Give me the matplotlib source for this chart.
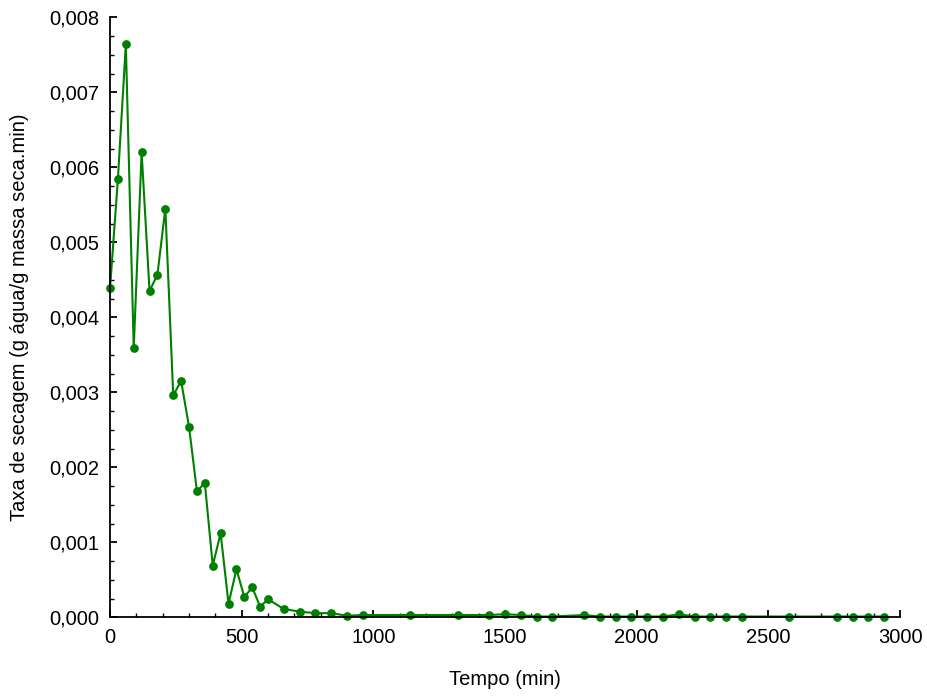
import matplotlib
matplotlib.use("Agg")
import matplotlib.pyplot as plt
from matplotlib.ticker import MultipleLocator, FuncFormatter

# tempo (min) e taxa de secagem (g agua / g massa seca.min)
tempo = [0, 30, 60, 90, 120, 150, 180, 210, 240, 270, 300, 330, 360, 390, 420,
         450, 480, 510, 540, 570, 600, 660, 720, 780, 840, 900, 960, 1140, 1320,
         1440, 1500, 1560, 1620, 1680, 1800, 1860, 1920, 1980, 2040, 2100, 2160,
         2220, 2280, 2340, 2400, 2580, 2760, 2820, 2880, 2940]
taxa = [0.00439, 0.00585, 0.00764, 0.00359, 0.00620, 0.00435, 0.00457, 0.00545,
        0.00296, 0.00315, 0.00254, 0.00168, 0.00179, 0.00069, 0.00112, 0.00018,
        0.00064, 0.00027, 0.00040, 0.00014, 0.00024, 0.00011, 0.000075, 0.000055,
        0.000055, 0.00002, 0.00003, 0.00003, 0.00003, 0.00003, 0.00004, 0.00003,
        0.00001, 0.00001, 0.00003, 0.00001, 0.00001, 0.00001, 0.00001, 0.00001,
        0.00004, 0.00001, 0.00001, 0.00001, 0.00001, 0.00001, 0.00001, 0.00001,
        0.00001, 0.00001]

plt.rcParams['font.family'] = ['Liberation Sans', 'DejaVu Sans']

fig = plt.figure(figsize=(9.27, 6.97), dpi=100)
ax = fig.add_axes([0.1187, 0.1144, 0.8522, 0.8608])

ax.plot(tempo, taxa, color='#008000', linewidth=1.5, marker='o', markersize=6.3,
        markeredgewidth=0, clip_on=False)

ax.set_xlim(0, 3000)
ax.set_ylim(0, 0.008)
ax.xaxis.set_major_locator(MultipleLocator(500))
ax.xaxis.set_minor_locator(MultipleLocator(100))
ax.yaxis.set_major_locator(MultipleLocator(0.001))
ax.yaxis.set_minor_locator(MultipleLocator(0.00025))
ax.yaxis.set_major_formatter(FuncFormatter(lambda v, p: f"{v:.3f}".replace('.', ',')))

ax.spines['top'].set_visible(False)
ax.spines['right'].set_visible(False)
ax.spines['left'].set_linewidth(1.3)
ax.spines['bottom'].set_linewidth(1.3)
ax.tick_params(which='major', direction='in', length=5, width=1.3, labelsize=14.5, pad=8)
ax.tick_params(which='minor', direction='in', length=3, width=1.0)

ax.set_xlabel('Tempo (min)', fontsize=14.5, labelpad=16)
ax.set_ylabel('Taxa de secagem (g água/g massa seca.min)', fontsize=14.5, labelpad=14)

fig.savefig('out.png', dpi=100)
